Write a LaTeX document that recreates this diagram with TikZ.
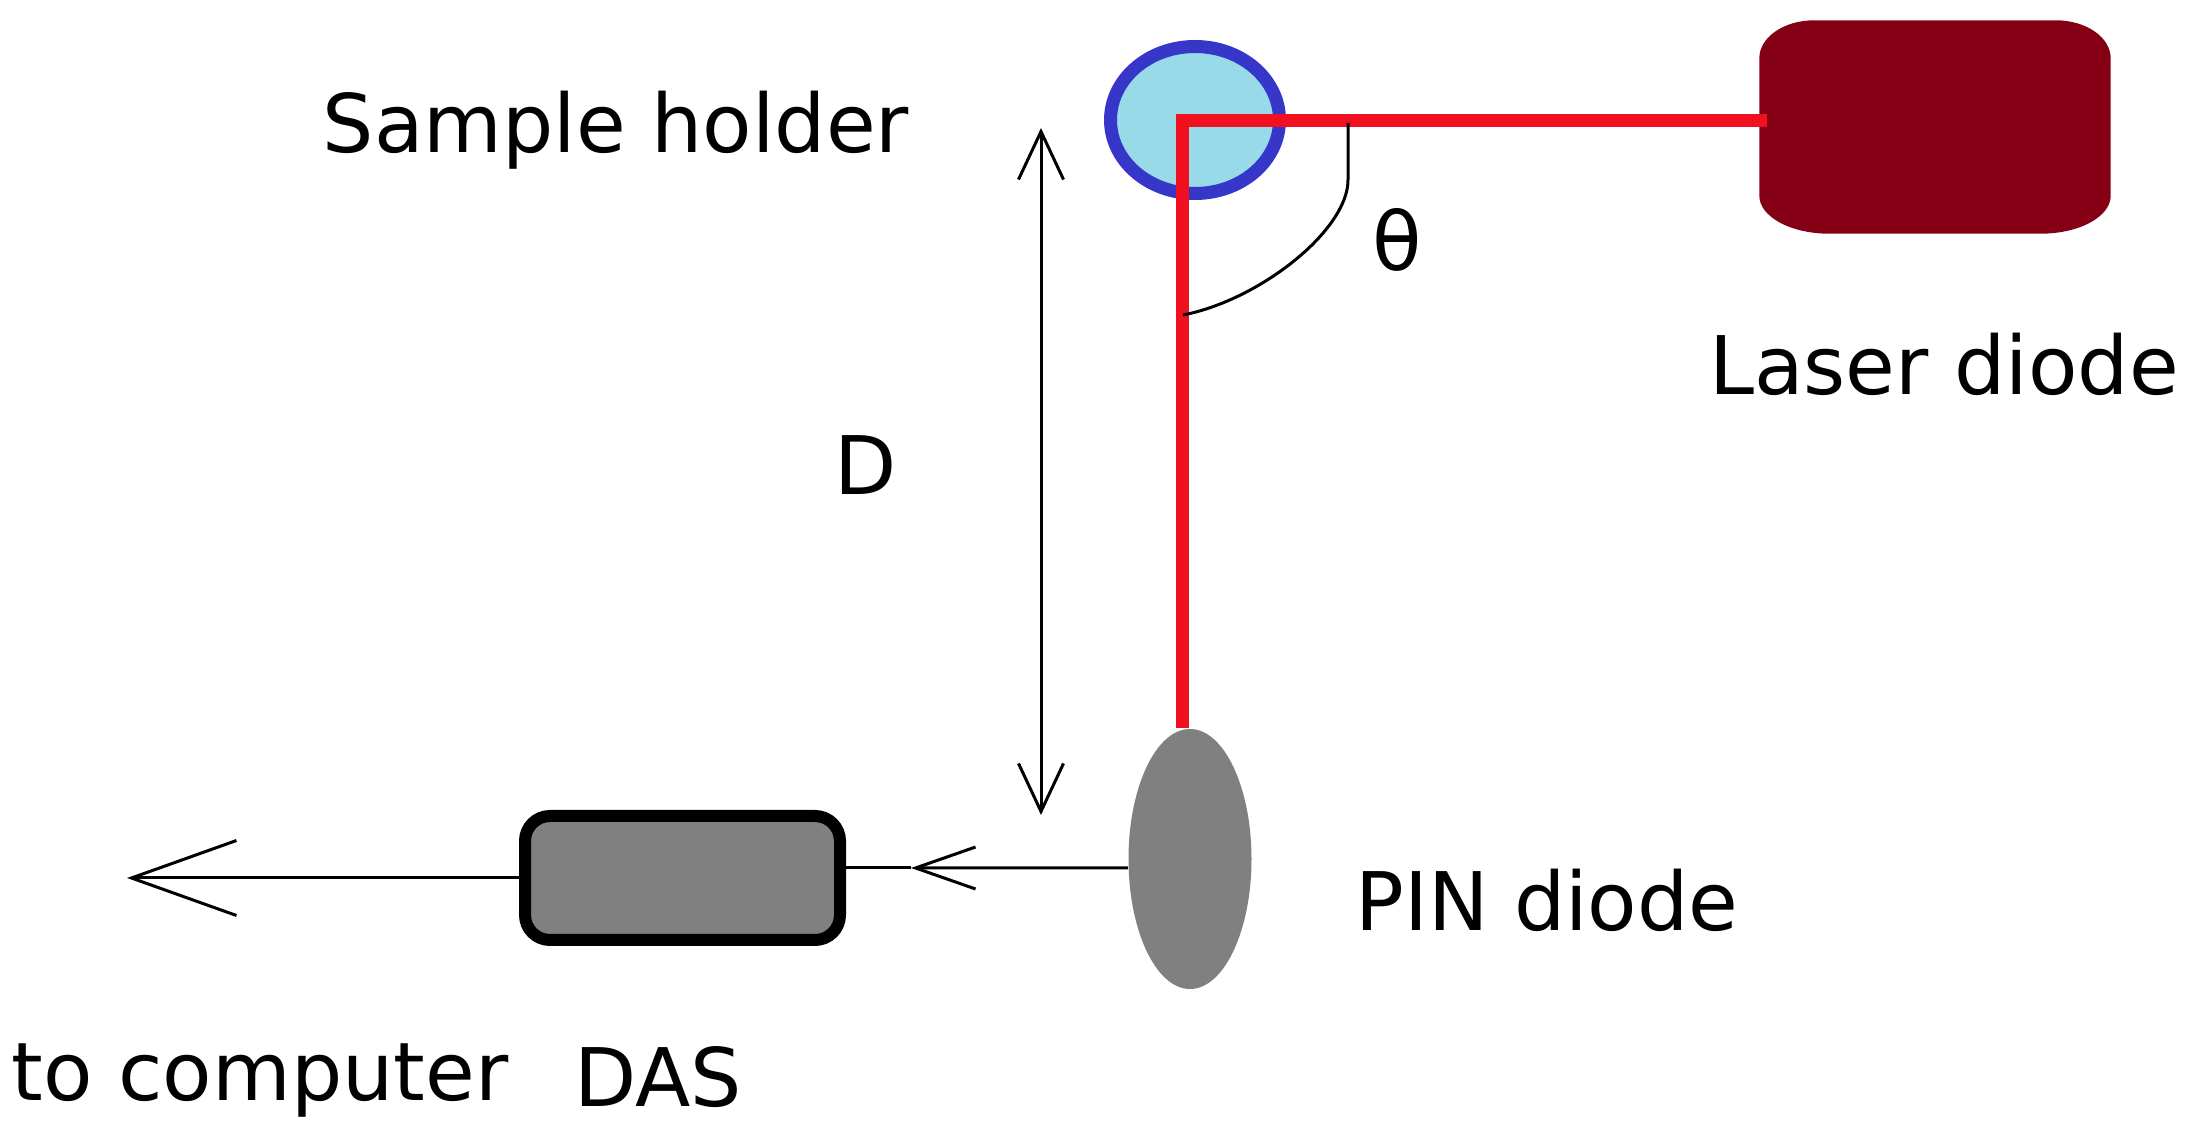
\documentclass[tikz,border=0pt]{standalone}
\usepackage{fontspec}
\setmainfont{DejaVu Sans}
\usetikzlibrary{arrows.meta,shapes.geometric}

\definecolor{holderfill}{HTML}{99DAE8}
\definecolor{holderline}{HTML}{3636C8}
\definecolor{beamred}{HTML}{F01020}
\definecolor{laserred}{HTML}{850015}
\definecolor{partgray}{HTML}{808080}

\tikzset{
  txt/.style={font=\fontsize{23}{28}\selectfont, inner sep=0pt},
  thinline/.style={line width=0.03cm, black},
  beam/.style={line width=0.13cm, beamred},
  bighead/.style={-{Straight Barb[length=1.05cm,width=0.75cm]}},
  smallhead/.style={-{Straight Barb[length=0.6cm,width=0.42cm]}}
}

\begin{document}
\begin{tikzpicture}
  \useasboundingbox (0,0) rectangle (21.9,-11.38);

  % 样品架、激光二极管、PIN 二极管、DAS
  \node[ellipse, draw=holderline, fill=holderfill, line width=0.13cm, inner sep=0pt,
        minimum width=1.69cm, minimum height=1.47cm] (holder) at (11.95,-1.20) {};
  \node[rectangle, inner sep=0pt, minimum width=3.5cm, minimum height=2.12cm] (laser) at (19.35,-1.27) {};
  \fill[laserred] ([xshift=0.55cm]laser.north west) -- ([xshift=-0.55cm]laser.north east)
    arc[start angle=90, end angle=0, x radius=0.55cm, y radius=0.38cm]
    -- ([yshift=0.38cm]laser.south east)
    arc[start angle=0, end angle=-90, x radius=0.7cm, y radius=0.38cm]
    -- ([xshift=0.7cm]laser.south west)
    arc[start angle=270, end angle=180, x radius=0.7cm, y radius=0.38cm]
    -- ([yshift=-0.38cm]laser.north west)
    arc[start angle=180, end angle=90, x radius=0.55cm, y radius=0.38cm] -- cycle;
  \node[ellipse, fill=partgray, inner sep=0pt,
        minimum width=1.23cm, minimum height=2.6cm] (pin) at (11.90,-8.59) {};
  \node[rectangle, draw=black, fill=partgray, line width=0.12cm, rounded corners=0.25cm, inner sep=0pt,
        minimum width=3.15cm, minimum height=1.24cm] (das) at (6.825,-8.78) {};

  \coordinate (corner) at (11.82,-1.21);
  \coordinate (dtop) at (10.41,-1.28);
  \coordinate (dbot) at (10.41,-8.15);
  \coordinate (midtip) at (9.11,-8.68);
  \coordinate (computer) at (1.27,-8.78);
  \coordinate (arcstart) at (13.48,-1.23);
  \coordinate (arcbend) at (13.48,-1.80);
  \coordinate (arcend) at (11.83,-3.15);

  % 光路
  \draw[beam] ([xshift=0.08cm]laser.west |- corner) -- (corner) -- (corner |- pin.north);

  % 距离 D
  \draw[thinline, {Straight Barb[length=0.48cm,width=0.45cm]}-{Straight Barb[length=0.48cm,width=0.45cm]}] (dtop) -- (dbot);

  % 角度
  \draw[thinline] (arcstart) -- (arcbend) .. controls (13.48,-2.30) and (12.6,-3.00) .. (arcend);

  % 信号
  \draw[thinline, smallhead] ([yshift=-0.09cm]pin.west) -- (midtip);
  \draw[thinline] (midtip) -- ([yshift=0.10cm]das.east);
  \draw[thinline, bighead] (das.west) -- (computer);

  \node[txt] (holdertext) at (6.16,-1.30) {Sample holder};
  \node[txt] (lasertext) at (19.44,-3.64) {Laser diode};
  \node[txt] (dtext) at (8.66,-4.65) {D};
  \node[txt] (thetatext) at (13.97,-2.40) {θ};
  \node[txt] (pintext) at (15.47,-9.00) {PIN diode};
  \node[txt] (computertext) at (2.60,-10.81) {to computer};
  \node[txt] (dastext) at (6.58,-10.77) {DAS};
\end{tikzpicture}
\end{document}
